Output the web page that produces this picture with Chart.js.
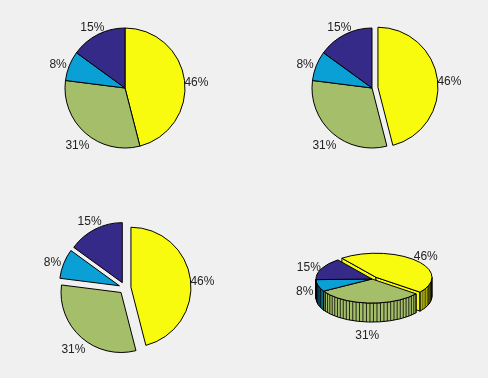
<!DOCTYPE html>
<html>
<head>
<meta charset="utf-8">
<script src="https://cdn.jsdelivr.net/npm/chart.js@4.4.0/dist/chart.umd.min.js"></script>
<style>
  html, body { margin: 0; padding: 0; background: #f0f0f0; }
  #fig { position: relative; width: 488px; height: 378px; background: #f0f0f0; overflow: hidden; }
  canvas { position: absolute; }
</style>
</head>
<body>
<div id="fig">
  <canvas id="pie1" width="200" height="176" style="left:25px;top:0px"></canvas>
  <canvas id="pie2" width="200" height="176" style="left:272px;top:0px"></canvas>
  <canvas id="pie3" width="200" height="176" style="left:25px;top:200px"></canvas>
  <canvas id="pie4" width="200" height="176" style="left:272px;top:191px"></canvas>
</div>
<script>
// ---------------- Data ----------------
const categories = ['A', 'B', 'C', 'D'];
const shares = [46, 31, 8, 15];
const sliceColors = ['#f9fb0e', '#a5be6a', '#0ba0d5', '#352a87'];
const explodeNone = [0, 0, 0, 0];
const explodeFirst = [1, 0, 0, 0];
const explodeAll = [1, 1, 1, 1];

const total = shares.reduce((a, b) => a + b, 0);
const pctLabels = shares.map(v => Math.round(v / total * 100) + '%');

// ---------------- Matlab-like pie drawing ----------------
// explode shift = 0.1 * radius, optional squash + depth for the 3-D one
function slices(chart, meta, opts) {
    const k = opts.squash;
    return meta.data.map((el, i) => {
        const mid = (el.startAngle + el.endAngle) / 2;
        const d = 0.1 * el.outerRadius * opts.explode[i];
        return {
            el, i, mid, s: el.startAngle, e: el.endAngle, R: el.outerRadius,
            ox: el.x + d * Math.cos(mid), oy: el.y + k * d * Math.sin(mid)
        };
    });
}

const matPie = {
    id: 'matPie',
    beforeDatasetDraw(chart, args, opts) {
        const ctx = chart.ctx;
        const k = opts.squash, h = opts.depth;
        const parts = slices(chart, args.meta, opts);
        ctx.save();
        ctx.lineWidth = 1;
        ctx.strokeStyle = '#000';
        ctx.lineJoin = 'round';
        if (h > 0) {
            // radial faces that look at the viewer
            parts.forEach(p => {
                [[p.s, -Math.cos(p.s)], [p.e, Math.cos(p.e)]].forEach(([t, ny]) => {
                    if (ny <= 0) return;
                    const rx = p.ox + p.R * Math.cos(t), ry = p.oy + k * p.R * Math.sin(t);
                    ctx.beginPath();
                    ctx.moveTo(p.ox, p.oy);
                    ctx.lineTo(rx, ry);
                    ctx.lineTo(rx, ry + h);
                    ctx.lineTo(p.ox, p.oy + h);
                    ctx.closePath();
                    ctx.fillStyle = sliceColors[p.i];
                    ctx.fill();
                    ctx.stroke();
                });
            });
            // front rim walls with facet lines
            parts.forEach(p => {
                const a = Math.max(p.s, 0), b = Math.min(p.e, Math.PI);
                if (b <= a) return;
                ctx.beginPath();
                ctx.ellipse(p.ox, p.oy, p.R, k * p.R, 0, a, b);
                ctx.ellipse(p.ox, p.oy + h, p.R, k * p.R, 0, b, a, true);
                ctx.closePath();
                ctx.fillStyle = sliceColors[p.i];
                ctx.fill();
                ctx.stroke();
                const n = Math.ceil(100 * shares[p.i] / total);
                ctx.beginPath();
                for (let j = 0; j <= n; j++) {
                    const t = p.s + j * (p.e - p.s) / n;
                    if (t < a || t > b) continue;
                    const x = p.ox + p.R * Math.cos(t), y = p.oy + k * p.R * Math.sin(t);
                    ctx.moveTo(x, y);
                    ctx.lineTo(x, y + h);
                }
                ctx.lineWidth = 0.8;
                ctx.stroke();
                ctx.lineWidth = 1;
            });
        }
        // top surfaces, drawn by the arc elements themselves
        parts.forEach(p => {
            ctx.save();
            ctx.translate(p.ox, p.oy);
            ctx.scale(1, k);
            ctx.translate(-p.el.x, -p.el.y);
            p.el.draw(ctx);
            ctx.restore();
            if (k !== 1) {
                ctx.beginPath();
                ctx.moveTo(p.ox, p.oy);
                ctx.lineTo(p.ox + p.R * Math.cos(p.s), p.oy + k * p.R * Math.sin(p.s));
                ctx.ellipse(p.ox, p.oy, p.R, k * p.R, 0, p.s, p.e);
                ctx.closePath();
                ctx.stroke();
            }
        });
        ctx.restore();
        return false;
    },
    afterDatasetsDraw(chart, args, opts) {
        const ctx = chart.ctx;
        const meta = chart.getDatasetMeta(0);
        const parts = slices(chart, meta, opts);
        ctx.save();
        ctx.font = '12px "Liberation Sans", Arial, sans-serif';
        ctx.fillStyle = '#222';
        ctx.textAlign = 'center';
        ctx.textBaseline = 'middle';
        parts.forEach(p => {
            const c = Math.cos(p.mid), s = Math.sin(p.mid);
            let x = p.ox + opts.labelX * p.R * c;
            let y = p.oy + opts.labelY * p.R * s + 3.5;
            // front labels that would sit on the 3-D wall go below it
            if (opts.depth > 0 && s > 0 && Math.abs(x - p.el.x) < p.R) y += opts.depth;
            ctx.fillText(pctLabels[p.i], x, y);
        });
        ctx.restore();
    }
};

function makePie(id, explode, cfg) {
    return new Chart(document.getElementById(id), {
        type: 'pie',
        data: {
            labels: categories,
            datasets: [{
                data: shares,
                backgroundColor: sliceColors,
                borderColor: '#000',
                borderWidth: cfg.squash === 1 ? 1 : 0,
                offset: 0,
                hoverOffset: 0
            }]
        },
        options: {
            responsive: false,
            animation: false,
            events: [],
            radius: cfg.radius,
            rotation: cfg.rotation,
            plugins: {
                legend: { display: false },
                tooltip: { enabled: false },
                matPie: {
                    explode,
                    squash: cfg.squash,
                    depth: cfg.depth,
                    labelX: cfg.labelX,
                    labelY: cfg.labelY
                }
            }
        },
        plugins: [matPie]
    });
}

const flat = { radius: 60, rotation: 0, squash: 1, depth: 0, labelX: 1.2, labelY: 1.2 };
makePie('pie1', explodeNone, flat);
makePie('pie2', explodeFirst, flat);
makePie('pie3', explodeAll, flat);
makePie('pie4', explodeFirst, { radius: 56, rotation: -37.5, squash: 0.43, depth: 19, labelX: 1.25, labelY: 0.61 });
</script>
</body>
</html>
